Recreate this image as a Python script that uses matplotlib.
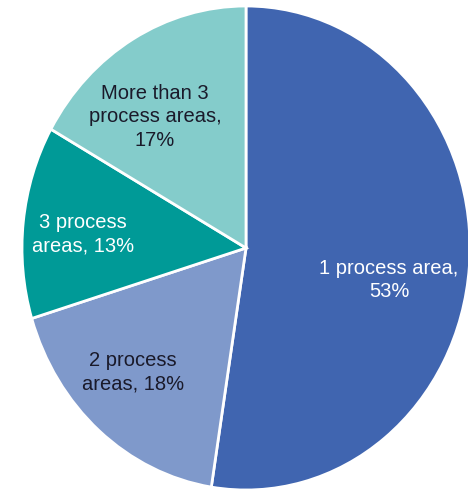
import matplotlib
matplotlib.use("Agg")
import matplotlib.pyplot as plt

categories = ["1 process area", "2 process\nareas", "3 process\nareas", "More than 3\nprocess areas"]
shares = [53, 18, 13, 17]
label_texts = ["1 process area,\n53%", "2 process\nareas, 18%", "3 process\nareas, 13%", "More than 3\nprocess areas,\n17%"]

colors = ["#4065B0", "#7F99CB", "#009A97", "#84CCCB"]
text_colors = ["white", "#1a1a2a", "white", "#1a1a2a"]
# label centres in pixel coordinates of the reference
label_px = [(389, 280), (133, 372), (83, 234), (155, 117)]

W, H = 468, 491
fig = plt.figure(figsize=(W / 100, H / 100), dpi=100)
cx, cy, rx, ry = 246, 248, 224, 242
ax = fig.add_axes([(cx - rx) / W, (H - cy - ry) / H, 2 * rx / W, 2 * ry / H])
ax.pie(shares, colors=colors, startangle=90, counterclock=False,
       wedgeprops=dict(edgecolor="white", linewidth=2))
ax.set_aspect("auto")
ax.set_xlim(-1, 1)
ax.set_ylim(-1, 1)
ax.axis("off")

for txt, (px, py), tc in zip(label_texts, label_px, text_colors):
    ax.text((px - cx) / rx, (cy - py) / ry, txt, ha="center", va="center",
            color=tc, fontsize=14.5, family="Liberation Sans", linespacing=1.33)

fig.savefig("out.png", dpi=100)
